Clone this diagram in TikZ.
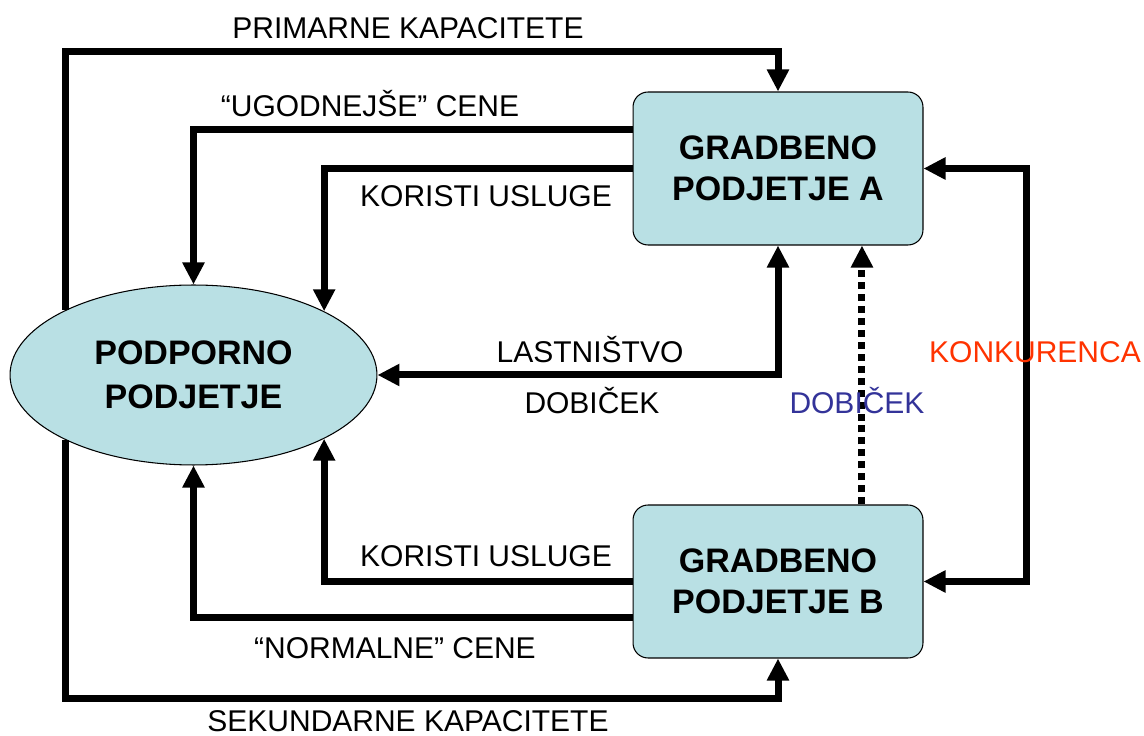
\documentclass[tikz,border=0pt]{standalone}
\usepackage{fontspec}
\setmainfont{Liberation Sans}
\usetikzlibrary{arrows.meta,shapes.geometric}
\definecolor{boxfill}{RGB}{185,224,228}
\definecolor{konk}{RGB}{255,51,0}
\definecolor{dobi}{RGB}{51,51,153}
\begin{document}
\begin{tikzpicture}[x=0.02cm,y=-0.02cm,
  company/.style={draw=black, line width=0.6pt, fill=boxfill, rounded corners=0.3cm,
    minimum width=5.8cm, minimum height=3.06cm, align=center,
    font=\fontsize{19.35}{23.3}\selectfont\bfseries},
  support/.style={ellipse, draw=black, line width=0.6pt, fill=boxfill,
    minimum width=7.34cm, minimum height=3.6cm, align=center,
    font=\fontsize{19.35}{25}\selectfont\bfseries},
  conn/.style={line width=0.14cm, -{Triangle[length=0.44cm,width=0.42cm]}},
  bconn/.style={line width=0.14cm, {Triangle[length=0.44cm,width=0.42cm]}-{Triangle[length=0.44cm,width=0.42cm]}},
  dotconn/.style={line width=0.14cm, dash pattern=on 0.14cm off 0.1cm, -{Triangle[length=0.44cm,width=0.42cm]}},
  lbl/.style={font=\fontsize{17.07}{20}\selectfont, text height=0.43cm, text depth=0pt, inner sep=0pt}
]
\useasboundingbox (0,0) rectangle (1144,736);

% nodes
\node[company] (A) at (778,168.5) {GRADBENO\\PODJETJE A};
\node[company] (B) at (778,581.5) {GRADBENO\\PODJETJE B};
\node[support] (P) at (193.5,375) {PODPORNO\\PODJETJE};

% connectors
\draw[conn] (P.153.5) |- ([yshift=0.8cm]A.north) -- (A.north);
\draw[conn] (A.west |- 0,130) -| (P.north);
\draw[conn] (A.west) -| (P.26.5);
\draw[bconn] (P.east) -| (A.south);
\draw[dotconn] ([xshift=1.68cm]B.north) -- ([xshift=1.68cm]A.south);
\draw[bconn] (A.east) -- ++(2.06cm,0) |- (B.east);
\draw[conn] (B.west) -| (P.-26.5);
\draw[conn] (B.west |- 0,618) -| (P.south);
\draw[conn] (P.-153.5) |- ([yshift=-0.8cm]B.south) -- (B.south);

% labels
\node[lbl] (l1) at (408,28) {PRIMARNE KAPACITETE};
\node[lbl] (l2) at (370,106) {“UGODNEJŠE” CENE};
\node[lbl] (l3) at (486,196) {KORISTI USLUGE};
\node[lbl] (l4) at (590,352) {LASTNIŠTVO};
\node[lbl] (l5) at (592,403) {DOBIČEK};
\node[lbl, text=dobi] (l6) at (857,403) {DOBIČEK};
\node[lbl, text=konk] (l7) at (1035,352) {KONKURENCA};
\node[lbl] (l8) at (486,556) {KORISTI USLUGE};
\node[lbl] (l9) at (395,648) {“NORMALNE” CENE};
\node[lbl] (l10) at (408,721) {SEKUNDARNE KAPACITETE};
\end{tikzpicture}
\end{document}
